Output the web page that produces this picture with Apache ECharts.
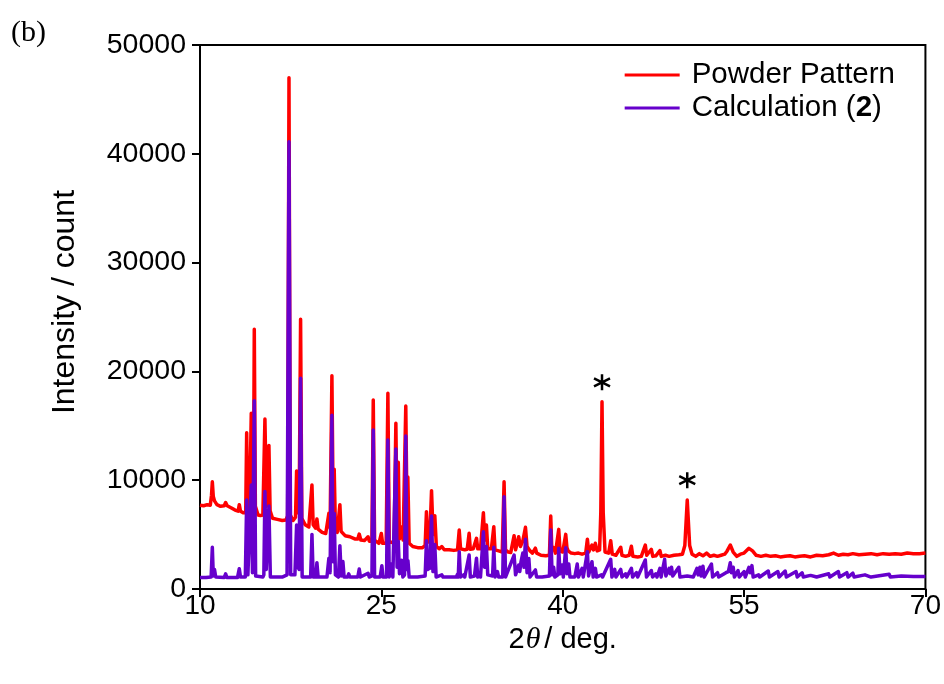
<!DOCTYPE html>
<html>
<head>
<meta charset="utf-8">
<script src="https://cdn.jsdelivr.net/npm/echarts@6/dist/echarts.min.js"></script>
<style>
html,body{margin:0;padding:0;background:#fff;}
#c{width:944px;height:684px;}
</style>
</head>
<body>
<div id="c"></div>
<script>
// ---- data ----
var xTicks = [10, 25, 40, 55, 70];
var yTicks = [0, 10000, 20000, 30000, 40000, 50000];
var seriesNames = ['Powder Pattern', 'Calculation (2)'];

var powderPattern = [
[10.0,7700],[10.3,7650],[10.6,7750],[10.85,7700],[10.95,8600],[11.02,9850],[11.1,8500],[11.2,8100],[11.4,7750],[11.7,7600],[12.0,7650],[12.12,7950],[12.25,7650],[12.6,7450],[12.9,7250],[13.15,7150],[13.25,7750],[13.35,7150],[13.6,7000],[13.78,7000],[13.86,14370],[13.95,7300],[14.1,7000],[14.24,16150],[14.33,8200],[14.42,8500],[14.49,23870],[14.58,7600],[14.8,6800],[15.0,6750],[15.2,6800],[15.37,15620],[15.5,7600],[15.58,7800],[15.70,13200],[15.8,7200],[16.0,6500],[16.4,6400],[16.8,6300],[17.1,6350],[17.25,6700],[17.36,47000],[17.47,6800],[17.7,6300],[17.9,6600],[17.99,10850],[18.1,7000],[18.2,7200],[18.32,24790],[18.42,6500],[18.7,5900],[19.0,5700],[19.15,5800],[19.26,9560],[19.36,5900],[19.55,5600],[19.67,6430],[19.77,5500],[20.1,5200],[20.4,5100],[20.55,5250],[20.66,6950],[20.76,5600],[20.91,19600],[21.0,9000],[21.1,11000],[21.2,5600],[21.35,5200],[21.57,7750],[21.67,5300],[21.82,5300],[22.0,4900],[22.4,4800],[22.8,4600],[23.05,4600],[23.17,5050],[23.3,4500],[23.6,4450],[23.9,4800],[24.0,4400],[24.22,4400],[24.33,17370],[24.44,4500],[24.8,4200],[25.0,5100],[25.1,4200],[25.4,4200],[25.54,17990],[25.65,4300],[25.84,4300],[26.05,4200],[26.2,15230],[26.3,6000],[26.4,11640],[26.5,4600],[26.67,5700],[26.8,4500],[26.92,4600],[27.02,16820],[27.12,7000],[27.19,10300],[27.3,4200],[27.6,3900],[28.0,3800],[28.4,3800],[28.62,4000],[28.73,7110],[28.85,4300],[29.0,4500],[29.15,9040],[29.28,5000],[29.42,6740],[29.55,3900],[29.8,3700],[30.0,3900],[30.2,3600],[30.6,3600],[31.0,3550],[31.3,3600],[31.44,5420],[31.55,3700],[31.9,3600],[32.1,3650],[32.26,5120],[32.36,3650],[32.6,3700],[32.87,4660],[32.97,3700],[33.2,3700],[33.44,7010],[33.55,4500],[33.69,5880],[33.8,3700],[34.1,3700],[34.3,5730],[34.4,3600],[34.7,3500],[35.0,3400],[35.15,9860],[35.27,3600],[35.5,3400],[35.7,3350],[35.98,4900],[36.1,3600],[36.36,4800],[36.5,3900],[36.7,4400],[36.92,5670],[37.05,3900],[37.3,3500],[37.5,3300],[37.74,3750],[37.85,3300],[38.2,3100],[38.6,3050],[38.9,3100],[39.01,6710],[39.1,3600],[39.25,3800],[39.4,3300],[39.67,5480],[39.78,3500],[40.0,3400],[40.25,5020],[40.35,3800],[40.45,3500],[40.7,3300],[41.0,3250],[41.3,3300],[41.6,3200],[41.9,3300],[42.04,4570],[42.15,3400],[42.3,3400],[42.42,4040],[42.55,3600],[42.7,4200],[42.85,3500],[43.05,3600],[43.15,7000],[43.25,17220],[43.35,7000],[43.5,3400],[43.8,3300],[43.97,4440],[44.1,3200],[44.4,3100],[44.8,3840],[44.9,3100],[45.2,3000],[45.5,3100],[45.68,3930],[45.8,3000],[46.2,2950],[46.5,3000],[46.83,4040],[46.95,3100],[47.33,3650],[47.45,3000],[47.7,3050],[48.04,3530],[48.15,3000],[48.5,3100],[48.8,3000],[49.2,3100],[49.6,3150],[49.9,3200],[50.1,4000],[50.3,8180],[50.5,4000],[50.7,3200],[51.0,3000],[51.3,3250],[51.6,3050],[51.9,3300],[52.2,3000],[52.5,3100],[52.8,3000],[53.1,3100],[53.4,3200],[53.6,3500],[53.86,4040],[54.1,3400],[54.4,3000],[54.7,3200],[55.0,3300],[55.4,3740],[55.7,3500],[56.0,3100],[56.4,3000],[56.8,3100],[57.2,3000],[57.6,3050],[58.0,2950],[58.4,3000],[58.8,3050],[59.2,2950],[59.6,3000],[60.0,3050],[60.5,2950],[61.0,3100],[61.5,3050],[62.0,3150],[62.4,3300],[62.8,3100],[63.2,3200],[63.6,3150],[64.0,3250],[64.5,3150],[65.0,3200],[65.5,3250],[66.0,3150],[66.5,3250],[67.0,3200],[67.5,3250],[68.0,3200],[68.5,3300],[69.0,3250],[69.5,3250],[70.0,3300]
];

var calculation2 = [
[10.0,1050],[10.5,1050],[10.92,1100],[11.02,3830],[11.1,1200],[11.2,1800],[11.3,1100],[12.0,1050],[12.12,1400],[12.22,1050],[13.1,1050],[13.25,1870],[13.35,1100],[13.75,1100],[13.86,8180],[13.96,1300],[14.1,1300],[14.24,9560],[14.34,1500],[14.4,1600],[14.49,17310],[14.6,1200],[15.2,1100],[15.28,1300],[15.37,8950],[15.48,1800],[15.58,1800],[15.70,7630],[15.82,1100],[16.8,1100],[17.2,1300],[17.36,41100],[17.5,1300],[17.85,1300],[17.99,5880],[18.1,2000],[18.2,1800],[18.32,19360],[18.45,1100],[19.15,1100],[19.26,5020],[19.36,1100],[19.57,1100],[19.67,2420],[19.77,1100],[20.5,1100],[20.66,2830],[20.76,1500],[20.91,15960],[21.0,2500],[21.1,6950],[21.2,1300],[21.45,1100],[21.57,3980],[21.68,1200],[21.82,2520],[21.92,1100],[22.2,1100],[22.3,1400],[22.4,1100],[23.05,1100],[23.17,1840],[23.27,1100],[23.9,1450],[24.0,1100],[24.22,1200],[24.33,14610],[24.44,1100],[24.9,1100],[25.04,2140],[25.14,1100],[25.43,1100],[25.54,13690],[25.65,1100],[25.84,2300],[25.95,1100],[26.1,1200],[26.2,12870],[26.3,2000],[26.4,4400],[26.5,1400],[26.67,2640],[26.78,1100],[26.92,1300],[27.02,14060],[27.12,1800],[27.2,2600],[27.3,1100],[28.0,1100],[28.62,1200],[28.73,4440],[28.83,1800],[29.0,1900],[29.15,6710],[29.27,1600],[29.42,4100],[29.53,1100],[30.0,1300],[30.1,1100],[31.2,1100],[31.3,1350],[31.36,1100],[31.44,3430],[31.54,1100],[31.8,1300],[31.9,1100],[32.26,3120],[32.36,1100],[32.7,1200],[32.87,2820],[32.97,1100],[33.1,1500],[33.2,1100],[33.44,5270],[33.54,2000],[33.69,3900],[33.8,1300],[34.2,1200],[34.3,3830],[34.4,1100],[34.6,1600],[34.7,1100],[35.04,1100],[35.15,8490],[35.27,1100],[35.98,3120],[36.1,1300],[36.36,2200],[36.45,1600],[36.55,2500],[36.7,3300],[36.8,2000],[36.92,4570],[37.05,1500],[37.2,2800],[37.3,1100],[37.74,1750],[37.84,1100],[38.3,1100],[38.9,1200],[39.01,5420],[39.12,1300],[39.25,2000],[39.35,1100],[39.6,1300],[39.67,3740],[39.78,1400],[39.95,2200],[40.05,1100],[40.25,3800],[40.35,1400],[40.5,2300],[40.6,1100],[41.0,1100],[41.2,2300],[41.3,1100],[41.6,1900],[41.7,1100],[42.04,3430],[42.14,1200],[42.42,2510],[42.52,1100],[42.7,1900],[42.8,1100],[43.2,1300],[43.3,1100],[43.97,2730],[44.07,1100],[44.3,1800],[44.4,1100],[44.8,1800],[44.9,1100],[45.2,1400],[45.3,1100],[45.68,1900],[45.78,1100],[46.1,1500],[46.2,1100],[46.83,2670],[46.93,1100],[47.33,1700],[47.43,1100],[47.7,1400],[47.8,1100],[48.04,1900],[48.14,1100],[48.43,2730],[48.53,1200],[48.8,1900],[48.9,1400],[49.0,2000],[49.1,1200],[49.6,2000],[49.7,1100],[50.3,1200],[50.8,1100],[51.1,1900],[51.2,1300],[51.35,2000],[51.45,1200],[51.6,2100],[51.7,1100],[52.3,2300],[52.4,1100],[52.8,1500],[52.9,1100],[53.5,1500],[53.7,1600],[53.86,2420],[53.95,1500],[54.1,2000],[54.2,1100],[54.5,1700],[54.6,1100],[55.0,1600],[55.1,1100],[55.4,1990],[55.5,1500],[55.65,2150],[55.75,1100],[56.2,1300],[56.3,1100],[57.0,1650],[57.1,1100],[57.8,1600],[57.9,1100],[58.4,1650],[58.5,1100],[59.3,1600],[59.4,1100],[59.8,1490],[59.9,1100],[60.5,1250],[61.0,1100],[62.0,1400],[62.1,1100],[62.8,1600],[62.9,1100],[63.5,1500],[63.6,1100],[64.0,1450],[64.1,1100],[65.0,1300],[65.5,1100],[67.0,1350],[67.1,1100],[68.0,1200],[69.0,1150],[70.0,1150]
];

var asteriskPoints = [[43.25, 19000], [50.3, 10000]];

// ---- chart ----
var FONT = '"Liberation Sans", Arial, sans-serif';
var chart = echarts.init(document.getElementById('c'), null, {renderer: 'canvas'});
var asteriskPath = 'path://M0,-10L0,10M-8.66,-5L8.66,5M-8.66,5L8.66,-5';

chart.setOption({
  animation: false,
  backgroundColor: '#fff',
  textStyle: {fontFamily: FONT},
  graphic: [
    {
      type: 'text', left: 11, top: 18,
      style: {text: '(b)', font: '30px "Liberation Serif", "Times New Roman", serif', fill: '#000'}
    },
    {
      type: 'text', x: 65, y: 302, rotation: Math.PI / 2,
      style: {text: 'Intensity / count', font: '32px "Liberation Sans", Arial, sans-serif', fill: '#000', align: 'center', verticalAlign: 'middle'}
    }
  ],
  grid: {left: 200, right: 18, top: 45, bottom: 95, show: true, borderColor: '#000', borderWidth: 2, backgroundColor: 'transparent'},
  legend: {
    data: seriesNames,
    orient: 'vertical',
    right: 44, top: 55,
    itemWidth: 55, itemHeight: 3, itemGap: 3,
    icon: 'rect',
    formatter: function (name) {
      if (name === 'Calculation (2)') return '{n|Calculation (}{b|2}{n|)}';
      return '{n|' + name + '}';
    },
    textStyle: {
      color: '#000', fontFamily: FONT, fontSize: 29.5, padding: [0, 0, 0, 7],
      rich: {
        n: {fontSize: 29.5, fontFamily: FONT, color: '#000'},
        b: {fontSize: 29.5, fontFamily: FONT, color: '#000', fontWeight: 'bold'}
      }
    }
  },
  xAxis: {
    type: 'value', min: xTicks[0], max: xTicks[xTicks.length - 1], interval: 15,
    axisLine: {show: true, lineStyle: {color: '#000', width: 2}},
    axisTick: {show: true, inside: false, length: 8, lineStyle: {color: '#000', width: 2}},
    axisLabel: {color: '#000', fontSize: 28, fontFamily: FONT, margin: 3},
    splitLine: {show: false},
    name: '{a|2}{t|θ}{a|/ deg.}',
    nameLocation: 'middle', nameGap: 32,
    nameTextStyle: {
      rich: {
        a: {fontSize: 29, fontFamily: FONT, color: '#000'},
        t: {fontSize: 30, fontFamily: '"Liberation Serif", serif', fontStyle: 'italic', color: '#000', padding: [0, 4, 0, 1]}
      }
    }
  },
  yAxis: {
    type: 'value', min: yTicks[0], max: yTicks[yTicks.length - 1], interval: 10000,
    axisLine: {show: true, lineStyle: {color: '#000', width: 2}},
    axisTick: {show: true, inside: false, length: 8, lineStyle: {color: '#000', width: 2}},
    axisLabel: {color: '#000', fontSize: 28.5, fontFamily: FONT, margin: 14, formatter: function (v) { return String(v); }},
    splitLine: {show: false}
  },
  series: [
    {
      name: seriesNames[0], type: 'line', data: powderPattern,
      showSymbol: false, symbol: 'none', smooth: false,
      lineStyle: {color: '#ff0000', width: 3.5, join: 'round'},
      itemStyle: {color: '#ff0000'}, z: 2,
      markPoint: {
        symbol: asteriskPath, symbolSize: 16,
        itemStyle: {color: 'none', borderColor: '#000', borderWidth: 2.5},
        label: {show: false},
        data: asteriskPoints.map(function (p) { return {coord: p}; })
      }
    },
    {
      name: seriesNames[1], type: 'line', data: calculation2,
      showSymbol: false, symbol: 'none', smooth: false,
      lineStyle: {color: '#6600cc', width: 3.5, join: 'round'},
      itemStyle: {color: '#6600cc'}, z: 3
    }
  ]
});
</script>
</body>
</html>
